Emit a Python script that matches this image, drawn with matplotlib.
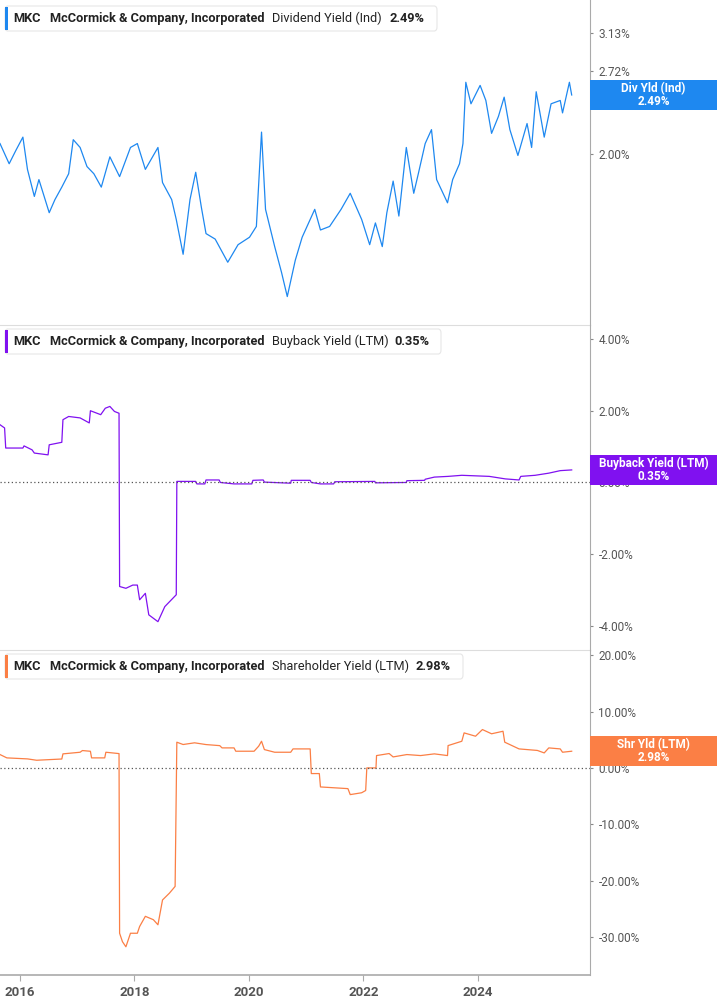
import matplotlib
matplotlib.use("Agg")
import matplotlib.pyplot as plt
from matplotlib.patches import Rectangle, FancyBboxPatch
from matplotlib.ticker import FixedLocator, NullLocator

plt.rcParams["font.family"] = "Roboto"

# ---- data ----
div_years = [2015.65, 2015.81, 2015.93, 2016.05, 2016.13, 2016.25, 2016.33, 2016.51, 2016.61, 2016.73,
             2016.85, 2016.93, 2017.05, 2017.17, 2017.29, 2017.42, 2017.57, 2017.74, 2017.93, 2018.05,
             2018.19, 2018.41, 2018.49, 2018.65, 2018.73, 2018.85, 2018.97, 2019.07, 2019.17, 2019.25,
             2019.41, 2019.63, 2019.81, 2020.01, 2020.13, 2020.22, 2020.29, 2020.45, 2020.57, 2020.67,
             2020.81, 2020.93, 2021.15, 2021.25, 2021.41, 2021.61, 2021.77, 2021.97, 2022.11, 2022.21,
             2022.33, 2022.41, 2022.52, 2022.62, 2022.75, 2022.88, 2022.96, 2023.08, 2023.19, 2023.28,
             2023.47, 2023.56, 2023.68, 2023.74, 2023.79, 2023.88, 2024.04, 2024.14, 2024.24, 2024.36,
             2024.46, 2024.56, 2024.70, 2024.86, 2024.94, 2025.02, 2025.16, 2025.28, 2025.44, 2025.48,
             2025.60, 2025.64]
div_yield = [2.08, 1.93, 2.03, 2.13, 1.89, 1.71, 1.82, 1.61, 1.69, 1.77,
             1.86, 2.11, 2.05, 1.91, 1.86, 1.77, 1.98, 1.84, 2.05, 2.08,
             1.89, 2.05, 1.80, 1.69, 1.57, 1.38, 1.69, 1.87, 1.64, 1.49,
             1.46, 1.34, 1.43, 1.47, 1.53, 2.17, 1.63, 1.42, 1.29, 1.18,
             1.35, 1.47, 1.63, 1.51, 1.53, 1.63, 1.73, 1.57, 1.43, 1.55,
             1.42, 1.61, 1.81, 1.59, 2.05, 1.73, 1.86, 2.08, 2.19, 1.82,
             1.67, 1.82, 1.93, 2.08, 2.61, 2.41, 2.58, 2.44, 2.16, 2.30,
             2.47, 2.19, 1.99, 2.24, 2.05, 2.52, 2.13, 2.41, 2.44, 2.33,
             2.61, 2.49]

bb_years = [2015.65, 2015.73, 2015.75, 2016.05, 2016.07, 2016.21, 2016.25, 2016.49, 2016.51, 2016.73,
            2016.75, 2016.85, 2017.05, 2017.21, 2017.23, 2017.41, 2017.49, 2017.57, 2017.65, 2017.73,
            2017.74, 2017.85, 2017.97, 2018.05, 2018.09, 2018.19, 2018.25, 2018.41, 2018.53, 2018.73,
            2018.74, 2019.07, 2019.09, 2019.23, 2019.25, 2019.48, 2019.50, 2019.74, 2020.05, 2020.07,
            2020.25, 2020.27, 2020.73, 2020.74, 2021.07, 2021.09, 2021.25, 2021.48, 2021.50, 2022.20,
            2022.21, 2022.75, 2022.76, 2023.07, 2023.08, 2023.24, 2023.48, 2023.72, 2024.20, 2024.48,
            2024.72, 2024.75, 2025.00, 2025.24, 2025.44, 2025.64]
bb_yield = [1.61, 1.52, 0.96, 0.96, 1.02, 0.91, 0.82, 0.77, 1.05, 1.12,
            1.75, 1.84, 1.80, 1.66, 2.00, 1.89, 2.07, 2.12, 1.98, 1.93,
            -2.90, -2.95, -2.86, -2.86, -3.27, -3.09, -3.69, -3.88, -3.46, -3.13,
            0.03, 0.03, -0.04, -0.04, 0.07, 0.07, 0.00, -0.04, -0.04, 0.06,
            0.07, 0.01, -0.02, 0.06, 0.06, 0.00, -0.04, -0.04, 0.02, 0.03,
            -0.01, 0.00, 0.05, 0.06, 0.09, 0.15, 0.17, 0.20, 0.17, 0.10,
            0.07, 0.17, 0.20, 0.26, 0.33, 0.35]

sh_years = [2015.65, 2015.77, 2016.13, 2016.29, 2016.73, 2016.75, 2017.05, 2017.09, 2017.23, 2017.25,
            2017.48, 2017.50, 2017.73, 2017.74, 2017.79, 2017.85, 2017.93, 2018.05, 2018.09, 2018.19,
            2018.33, 2018.41, 2018.49, 2018.61, 2018.71, 2018.74, 2018.85, 2019.05, 2019.25, 2019.49,
            2019.53, 2019.74, 2019.77, 2020.09, 2020.17, 2020.22, 2020.27, 2020.45, 2020.73, 2020.77,
            2021.07, 2021.09, 2021.23, 2021.25, 2021.73, 2021.77, 2021.97, 2022.04, 2022.06, 2022.22,
            2022.23, 2022.45, 2022.52, 2022.76, 2023.00, 2023.24, 2023.47, 2023.48, 2023.72, 2023.76,
            2023.96, 2024.08, 2024.24, 2024.44, 2024.47, 2024.72, 2025.04, 2025.16, 2025.24, 2025.44,
            2025.48, 2025.64]
sh_yield = [2.37, 1.78, 1.60, 1.36, 1.58, 2.49, 2.78, 3.08, 2.95, 1.78,
            1.78, 2.78, 2.54, -29.3, -30.8, -31.7, -29.3, -29.3, -28.1, -26.3,
            -26.9, -27.8, -23.4, -22.2, -21.0, 4.56, 4.15, 4.45, 4.14, 3.95,
            3.55, 3.55, 2.96, 2.96, 3.85, 4.73, 3.25, 2.78, 2.78, 3.37,
            3.37, -1.00, -1.00, -3.37, -3.67, -4.73, -4.40, -4.00, 0.00, 0.00,
            2.19, 2.55, 1.95, 2.37, 2.19, 2.49, 2.19, 3.96, 4.73, 6.21,
            5.62, 6.80, 6.05, 6.50, 4.56, 3.37, 3.10, 2.66, 3.55, 3.37,
            2.78, 2.96]

year_ticks = [2016, 2018, 2020, 2022, 2024]

# ---- style ----
BLUE = "#1e88f0"
PURPLE = "#8011f0"
ORANGE = "#fb7f45"
W, H = 717, 1005
fig = plt.figure(figsize=(W / 100, H / 100), dpi=100)

def px_axes(top, bottom):
    return fig.add_axes([0, 1 - bottom / H, 590 / W, (bottom - top) / H])

ax1 = px_axes(0, 325)
ax2 = px_axes(325, 650)
ax3 = px_axes(650, 975)

ax1.plot(div_years, div_yield, color=BLUE, lw=0.9)
ax2.plot(bb_years, bb_yield, color=PURPLE, lw=0.9)
ax3.plot(sh_years, sh_yield, color=ORANGE, lw=0.9)

ax1.set_yscale("log")
ax1.set_ylim(1.062, 3.54)
ax1.yaxis.set_major_locator(FixedLocator([2.00, 2.72, 3.13]))
ax1.yaxis.set_minor_locator(NullLocator())
ax1.set_yticklabels(["2.00%", "2.72%", "3.13%"])

ax2.set_ylim(-4.67, 4.39)
ax2.set_yticks([-4, -2, 0, 2, 4])
ax2.set_yticklabels(["-4.00%", "-2.00%", "0.00%", "2.00%", "4.00%"])

ax3.set_ylim(-36.7, 20.9)
ax3.set_yticks([-30, -20, -10, 0, 10, 20])
ax3.set_yticklabels(["-30.00%", "-20.00%", "-10.00%", "0.00%", "10.00%", "20.00%"])

for ax in (ax2, ax3):
    ax.axhline(0, color="#555555", lw=0.9, ls=(0, (1, 2)))

for ax in (ax1, ax2, ax3):
    ax.set_xlim(2015.65, 2025.96)
    ax.set_xticks(year_ticks)
    ax.yaxis.tick_right()
    ax.tick_params(axis="y", length=2, color="#888888", labelsize=8.5, labelcolor="#555555", pad=4)
    for s in ("top", "left"):
        ax.spines[s].set_visible(False)
    ax.spines["right"].set_color("#aaaaaa")
    ax.spines["bottom"].set_color("#dddddd")
    ax.patch.set_alpha(0)
for ax in (ax1, ax2):
    ax.tick_params(axis="x", bottom=False, labelbottom=False)
ax3.spines["bottom"].set_color("#aaaaaa")
ax3.spines["bottom"].set_linewidth(1.2)
ax3.set_xticklabels([str(y) for y in year_ticks])
ax3.tick_params(axis="x", length=4, color="#aaaaaa", labelsize=9.5, labelcolor="#555555", pad=4)
for lab in ax3.get_xticklabels():
    lab.set_fontweight("bold")

# ---- current value badges ----
def badge(ax, x, v, color, l1, l2):
    yf = (ax.transScale + ax.transLimits).transform((x, v))[1]
    pos = ax.get_position()
    hpx = pos.height * H
    h = 30 / hpx
    ax.add_patch(Rectangle((1.0, yf - h / 2), 127 / 590, h, transform=ax.transAxes,
                           facecolor=color, edgecolor="none", clip_on=False, zorder=5))
    xc = 1.0 + 63.5 / 590
    ax.text(xc, yf + 6.5 / hpx, l1, transform=ax.transAxes, ha="center", va="center",
            color="white", fontsize=8.5, fontweight="bold", zorder=6)
    ax.text(xc, yf - 6.5 / hpx, l2, transform=ax.transAxes, ha="center", va="center",
            color="white", fontsize=8.5, fontweight="bold", zorder=6)

badge(ax1, div_years[-1], div_yield[-1], BLUE, "Div Yld (Ind)", "2.49%")
badge(ax2, bb_years[-1], bb_yield[-1], PURPLE, "Buyback Yield (LTM)", "0.35%")
badge(ax3, sh_years[-1], sh_yield[-1], ORANGE, "Shr Yld (LTM)", "2.98%")

# ---- legend boxes ----
def legend_box(top, right, color, metric, metric_x, val, val_x):
    bottom = top + 25
    fig.patches.append(FancyBboxPatch((5 / W, 1 - bottom / H), (right - 5) / W, 25 / H,
                                      boxstyle="round,pad=0,rounding_size=0.004",
                                      transform=fig.transFigure, facecolor="white",
                                      edgecolor="#e6e6e6", lw=0.8, zorder=10))
    fig.patches.append(Rectangle((5 / W, 1 - (bottom - 1) / H), 3 / W, 23 / H,
                                 transform=fig.transFigure, facecolor=color,
                                 edgecolor="none", zorder=11))
    yc = 1 - (top + 12.5) / H
    for x, t, wgt in [(13, "MKC", "bold"), (50, "McCormick & Company, Incorporated", "bold"),
                      (metric_x, metric, "normal"), (val_x, val, "bold")]:
        fig.text(x / W, yc, t, ha="left", va="center", fontsize=9.2, fontweight=wgt,
                 color="#222222", zorder=12)

legend_box(6, 437, BLUE, "Dividend Yield (Ind)", 272, "2.49%", 389)
legend_box(329, 441, PURPLE, "Buyback Yield (LTM)", 272, "0.35%", 394)
legend_box(654, 463, ORANGE, "Shareholder Yield (LTM)", 272, "2.98%", 416)

fig.savefig("out.png", dpi=100)
